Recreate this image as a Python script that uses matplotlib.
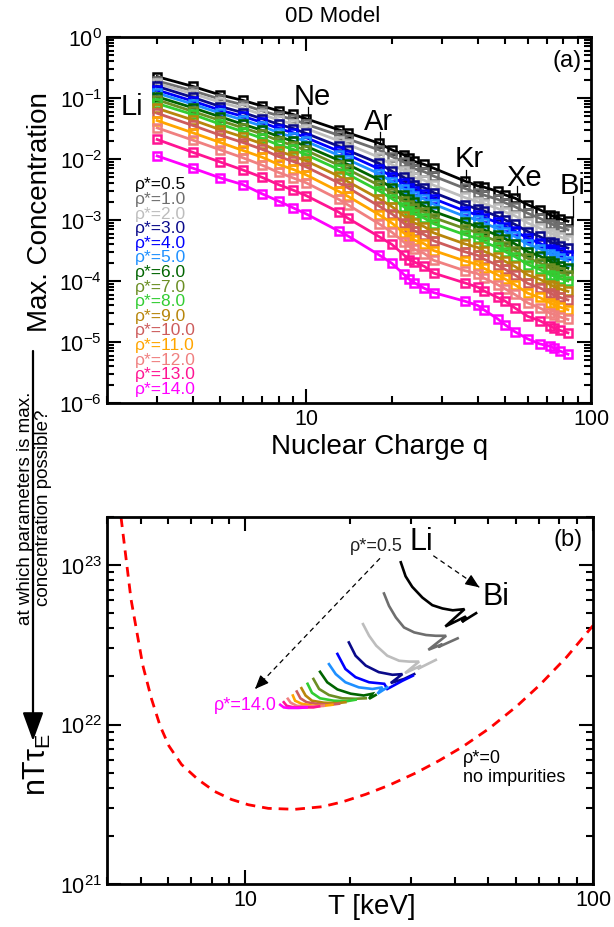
import matplotlib
matplotlib.use('Agg')
import matplotlib.pyplot as plt
import numpy as np
from matplotlib.ticker import LogLocator, NullFormatter, FixedLocator, FixedFormatter

plt.rcParams['font.family'] = ['Liberation Sans', 'DejaVu Sans']
plt.rcParams['mathtext.fontset'] = 'custom'
plt.rcParams['mathtext.rm'] = 'Liberation Sans'
plt.rcParams['mathtext.it'] = 'Liberation Sans:italic'
plt.rcParams['axes.unicode_minus'] = False

# ---------------- data: panel (a) ----------------
charges = [3, 4, 5, 6, 7, 8, 9, 10, 13, 14, 18, 20, 22, 23, 24, 26, 28,
           36, 40, 42, 47, 50, 54, 60, 66, 72, 74, 78, 83]
rho_labels = ['0.5', '1.0', '2.0', '3.0', '4.0', '5.0', '6.0', '7.0',
              '8.0', '9.0', '10.0', '11.0', '12.0', '13.0', '14.0']
rho_colors = ['#000000', '#6e6e6e', '#bdbdbd', '#0a0a8a', '#0000ff',
              '#1e90ff', '#006400', '#6b8e23', '#32cd32', '#b8860b',
              '#cd5c5c', '#ffa500', '#f08080', '#ff1493', '#ff00ff']

# log10 of max. concentration
logc_rho_0p5 = [-0.65, -0.81, -0.95, -1.04, -1.13, -1.21, -1.27, -1.34, -1.52, -1.57, -1.74, -1.85, -1.93, -1.99, -2.04, -2.09, -2.15, -2.36, -2.44, -2.46, -2.53, -2.59, -2.64, -2.75, -2.83, -2.92, -2.94, -2.98, -3.02]
logc_rho_1 = [-0.72, -0.88, -1.02, -1.11, -1.21, -1.29, -1.35, -1.43, -1.61, -1.67, -1.85, -1.96, -2.05, -2.11, -2.16, -2.21, -2.28, -2.48, -2.56, -2.59, -2.66, -2.72, -2.78, -2.89, -2.97, -3.06, -3.08, -3.12, -3.16]
logc_rho_2 = [-0.76, -0.93, -1.07, -1.17, -1.27, -1.36, -1.43, -1.50, -1.70, -1.76, -1.97, -2.09, -2.19, -2.25, -2.30, -2.35, -2.43, -2.63, -2.70, -2.73, -2.81, -2.87, -2.93, -3.05, -3.13, -3.22, -3.24, -3.28, -3.32]
logc_rho_3 = [-0.81, -0.99, -1.14, -1.24, -1.34, -1.43, -1.50, -1.58, -1.79, -1.86, -2.07, -2.20, -2.30, -2.37, -2.42, -2.47, -2.55, -2.75, -2.82, -2.85, -2.94, -3.00, -3.07, -3.19, -3.27, -3.36, -3.38, -3.42, -3.46]
logc_rho_4 = [-0.87, -1.05, -1.20, -1.30, -1.40, -1.50, -1.57, -1.65, -1.87, -1.93, -2.16, -2.29, -2.40, -2.47, -2.52, -2.57, -2.65, -2.85, -2.92, -2.96, -3.04, -3.11, -3.18, -3.30, -3.38, -3.47, -3.49, -3.53, -3.57]
logc_rho_5 = [-0.92, -1.10, -1.25, -1.36, -1.46, -1.57, -1.64, -1.71, -1.94, -2.01, -2.24, -2.37, -2.49, -2.55, -2.60, -2.66, -2.74, -2.94, -3.00, -3.05, -3.14, -3.20, -3.27, -3.40, -3.47, -3.56, -3.59, -3.63, -3.67]
logc_rho_6 = [-0.98, -1.16, -1.31, -1.43, -1.53, -1.63, -1.71, -1.79, -2.02, -2.09, -2.34, -2.47, -2.59, -2.66, -2.71, -2.77, -2.86, -3.04, -3.11, -3.16, -3.25, -3.31, -3.39, -3.52, -3.59, -3.68, -3.71, -3.75, -3.79]
logc_rho_7 = [-1.03, -1.22, -1.37, -1.49, -1.59, -1.70, -1.78, -1.86, -2.10, -2.17, -2.43, -2.56, -2.69, -2.76, -2.81, -2.87, -2.96, -3.14, -3.21, -3.26, -3.35, -3.42, -3.50, -3.63, -3.70, -3.79, -3.82, -3.86, -3.90]
logc_rho_8 = [-1.09, -1.27, -1.43, -1.55, -1.66, -1.77, -1.84, -1.93, -2.17, -2.25, -2.52, -2.65, -2.78, -2.85, -2.90, -2.97, -3.06, -3.24, -3.30, -3.36, -3.45, -3.52, -3.60, -3.73, -3.81, -3.90, -3.92, -3.96, -4.00]
logc_rho_9 = [-1.17, -1.36, -1.52, -1.64, -1.75, -1.87, -1.95, -2.03, -2.28, -2.37, -2.65, -2.78, -2.93, -3.00, -3.05, -3.11, -3.21, -3.39, -3.45, -3.51, -3.61, -3.68, -3.76, -3.90, -3.97, -4.06, -4.09, -4.13, -4.17]
logc_rho_10 = [-1.25, -1.45, -1.61, -1.73, -1.84, -1.96, -2.04, -2.13, -2.39, -2.47, -2.77, -2.90, -3.05, -3.13, -3.18, -3.24, -3.34, -3.52, -3.58, -3.64, -3.74, -3.81, -3.90, -4.04, -4.11, -4.20, -4.23, -4.27, -4.31]
logc_rho_11 = [-1.37, -1.57, -1.73, -1.86, -1.97, -2.09, -2.17, -2.26, -2.53, -2.61, -2.91, -3.05, -3.21, -3.28, -3.33, -3.39, -3.50, -3.67, -3.73, -3.79, -3.90, -3.97, -4.06, -4.20, -4.27, -4.36, -4.39, -4.43, -4.47]
logc_rho_12 = [-1.49, -1.69, -1.85, -1.98, -2.10, -2.22, -2.31, -2.39, -2.66, -2.75, -3.06, -3.20, -3.36, -3.43, -3.48, -3.55, -3.66, -3.83, -3.88, -3.95, -4.06, -4.13, -4.22, -4.36, -4.44, -4.53, -4.55, -4.59, -4.63]
logc_rho_13 = [-1.68, -1.89, -2.05, -2.18, -2.30, -2.42, -2.51, -2.60, -2.87, -2.97, -3.27, -3.40, -3.57, -3.65, -3.69, -3.76, -3.87, -4.03, -4.10, -4.16, -4.27, -4.33, -4.44, -4.58, -4.65, -4.74, -4.77, -4.81, -4.85]
logc_rho_14 = [-1.95, -2.15, -2.31, -2.42, -2.57, -2.69, -2.80, -2.90, -3.18, -3.26, -3.57, -3.71, -3.89, -3.97, -4.03, -4.12, -4.19, -4.33, -4.40, -4.47, -4.62, -4.72, -4.83, -4.95, -5.03, -5.07, -5.10, -5.15, -5.20]

element_names = ['Li', 'Ne', 'Ar', 'Kr', 'Xe', 'Bi']

# ---------------- data: panel (b) ----------------
T_rho_0p5 = [28.0, 28.9, 30.2, 32.3, 34.5, 36.9, 39.5, 42.7, 37.6, 43.1, 42.0, 46.1]
n_rho_0p5 = [1.04e23, 8.5e22, 7.3e22, 6.25e22, 5.6e22, 5.34e22, 5.2e22, 5.29e22, 4.12e22, 4.76e22, 4.4e22, 4.99e22]
T_rho_1 = [25.05, 25.9, 27.1, 28.6, 30.6, 33.1, 35.3, 37.8, 33.6, 36.9, 35.9, 40.8]
n_rho_1 = [6.63e22, 5.54e22, 4.69e22, 4.06e22, 3.78e22, 3.64e22, 3.6e22, 3.6e22, 2.94e22, 3.19e22, 3.06e22, 3.47e22]
T_rho_2 = [21.8, 22.7, 23.8, 25.6, 27.7, 29.6, 31.6, 28.8, 32.0, 31.3, 35.3]
n_rho_2 = [4.26e22, 3.6e22, 3.12e22, 2.7e22, 2.51e22, 2.48e22, 2.48e22, 2.1e22, 2.34e22, 2.23e22, 2.54e22]
T_rho_3 = [19.85, 20.75, 22.2, 24.2, 26.5, 28.3, 26.2, 28.6, 30.6]
n_rho_3 = [3.27e22, 2.7e22, 2.34e22, 2.13e22, 2.05e22, 2.07e22, 1.82e22, 1.93e22, 2.07e22]
T_rho_4 = [18.4, 19.4, 20.75, 22.7, 25.1, 25.6, 28.3, 30.3]
n_rho_4 = [2.77e22, 2.23e22, 1.98e22, 1.84e22, 1.8e22, 1.67e22, 1.88e22, 2.02e22]
T_rho_5 = [17.4, 18.2, 19.4, 21.2, 23.2, 24.8, 24.0, 25.6]
n_rho_5 = [2.39e22, 2.07e22, 1.84e22, 1.71e22, 1.67e22, 1.71e22, 1.56e22, 1.71e22]
T_rho_6 = [16.4, 17.2, 18.4, 20.1, 21.9, 23.2, 22.7, 23.7]
n_rho_6 = [2.14e22, 1.84e22, 1.66e22, 1.56e22, 1.52e22, 1.56e22, 1.45e22, 1.53e22]
T_rho_7 = [15.7, 16.3, 17.4, 19.0, 20.7, 22.2]
n_rho_7 = [1.93e22, 1.67e22, 1.53e22, 1.46e22, 1.45e22, 1.46e22]
T_rho_8 = [15.1, 15.55, 16.4, 17.96, 19.6, 20.75]
n_rho_8 = [1.8e22, 1.58e22, 1.46e22, 1.41e22, 1.4e22, 1.43e22]
T_rho_9 = [14.5, 14.9, 15.55, 16.8, 18.4, 19.4]
n_rho_9 = [1.69e22, 1.52e22, 1.41e22, 1.37e22, 1.36e22, 1.38e22]
T_rho_10 = [14.06, 14.4, 15.0, 16.3, 17.6, 18.6]
n_rho_10 = [1.61e22, 1.46e22, 1.38e22, 1.34e22, 1.33e22, 1.35e22]
T_rho_11 = [13.7, 13.9, 14.5, 15.7, 16.8, 17.8]
n_rho_11 = [1.52e22, 1.41e22, 1.35e22, 1.31e22, 1.31e22, 1.33e22]
T_rho_12 = [13.25, 13.5, 14.06, 15.0, 16.1, 16.8]
n_rho_12 = [1.45e22, 1.37e22, 1.31e22, 1.30e22, 1.30e22, 1.31e22]
T_rho_13 = [12.9, 13.15, 13.8, 14.7, 15.7, 16.3]
n_rho_13 = [1.38e22, 1.31e22, 1.28e22, 1.28e22, 1.28e22, 1.30e22]
T_rho_14 = [12.6, 12.9, 13.3, 14.2, 15.0]
n_rho_14 = [1.33e22, 1.28e22, 1.27e22, 1.27e22, 1.28e22]

T_no_imp = [4.39, 4.54, 4.69, 5.07, 5.37, 5.69, 6.03, 6.55, 7.31, 8.17, 9.12, 10.2, 11.64,
            13.9, 16.6, 19.0, 22.2, 25.9, 31.0, 36.1, 42.2, 50.4, 60.3, 70.3, 84.0, 100.0]
n_no_imp = [1.99e23, 1.09e23, 6.1e22, 2.35e22, 1.45e22, 9.77e21, 7.33e21, 5.62e21, 4.52e21,
            3.80e21, 3.39e21, 3.14e21, 2.98e21, 2.94e21, 3.05e21, 3.27e21, 3.65e21, 4.16e21,
            4.98e21, 5.94e21, 7.26e21, 9.48e21, 1.30e22, 1.77e22, 2.65e22, 4.17e22]

# ---------------- figure ----------------
W, H = 614, 928
fig = plt.figure(figsize=(W / 100, H / 100), dpi=100)
fig.patch.set_facecolor('white')


def rect(l, t, r, b):
    return [l / W, 1 - b / H, (r - l) / W, (b - t) / H]


ax1 = fig.add_axes(rect(107, 38, 591, 404))
ax2 = fig.add_axes(rect(107, 518, 593, 885))

conc_sets = [logc_rho_0p5, logc_rho_1, logc_rho_2, logc_rho_3, logc_rho_4,
             logc_rho_5, logc_rho_6, logc_rho_7, logc_rho_8, logc_rho_9,
             logc_rho_10, logc_rho_11, logc_rho_12, logc_rho_13, logc_rho_14]
for vals, col in zip(conc_sets, rho_colors):
    ax1.plot(charges, 10 ** np.array(vals), color=col, lw=2.0, marker='s',
             ms=5.5, mfc='none', mec=col, mew=1.8)

ax1.set_xscale('log')
ax1.set_yscale('log')
ax1.set_xlim(2, 100)
ax1.set_ylim(1e-6, 1)

T_sets = [T_rho_0p5, T_rho_1, T_rho_2, T_rho_3, T_rho_4, T_rho_5, T_rho_6,
          T_rho_7, T_rho_8, T_rho_9, T_rho_10, T_rho_11, T_rho_12, T_rho_13, T_rho_14]
n_sets = [n_rho_0p5, n_rho_1, n_rho_2, n_rho_3, n_rho_4, n_rho_5, n_rho_6,
          n_rho_7, n_rho_8, n_rho_9, n_rho_10, n_rho_11, n_rho_12, n_rho_13, n_rho_14]
ax2.plot(T_no_imp, n_no_imp, color='#ff0000', lw=2.0, ls=(0, (3.5, 2.5)))
for Ts, ns, col in zip(T_sets, n_sets, rho_colors):
    ax2.plot(Ts, ns, color=col, lw=1.9, solid_joinstyle='miter')
ax2.set_xscale('log')
ax2.set_yscale('log')
ax2.set_xlim(4, 100)
ax2.set_ylim(1e21, 2e23)

for ax in (ax1, ax2):
    for s in ax.spines.values():
        s.set_linewidth(2)
    ax.tick_params(which='both', direction='in', top=True, right=True,
                   labelsize=15.5, width=1.5)
    ax.tick_params(which='major', length=10)
    ax.tick_params(which='minor', length=5)
    ax.xaxis.set_major_locator(FixedLocator([10, 100]))
    ax.xaxis.set_major_formatter(FixedFormatter(['10', '100']))
    ax.xaxis.set_minor_locator(LogLocator(base=10, subs=np.arange(2, 10)))
    ax.xaxis.set_minor_formatter(NullFormatter())
    ax.yaxis.set_minor_locator(LogLocator(base=10, subs=np.arange(2, 10), numticks=20))
    ax.yaxis.set_minor_formatter(NullFormatter())
ax1.yaxis.set_major_locator(LogLocator(base=10, numticks=20))
ax2.yaxis.set_major_locator(LogLocator(base=10, numticks=20))

# ---- panel (a) texts ----
def a_xy(x, y):
    return ((x - 107) / 484, (404 - y) / 366)


def b_xy(x, y):
    return ((x - 107) / 486, (885 - y) / 367)


fig.text(333 / W, 1 - 17 / H, '0D Model', ha='center', va='center', fontsize=16)
ax1.text(*a_xy(567, 61), '(a)', transform=ax1.transAxes, ha='center', va='center', fontsize=17)
ax1.text(*a_xy(380, 447), 'Nuclear Charge q', transform=ax1.transAxes,
         ha='center', va='center', fontsize=20)
fig.text(40 / W, 1 - 212 / H, 'Max. Concentration', rotation=90,
         ha='center', va='center', fontsize=20)

label_pos = [(131.7, 106.7), (312, 96.7), (379, 121.7), (469, 159), (524, 177.5), (572.5, 185.8)]
pointer = [None, (307.5, 108, 118), (380, 133, 143), (466, 170.7, 180),
           (516.7, 187, 197), (573.3, 196.7, 218)]
for name, (px, py), pt in zip(element_names, label_pos, pointer):
    ax1.text(*a_xy(px, py), name, transform=ax1.transAxes, ha='center',
             va='center', fontsize=21)
    if pt is not None:
        x0, y0 = a_xy(pt[0], pt[1])
        x1, y1 = a_xy(pt[0], pt[2])
        ax1.plot([x0, x1], [y0, y1], transform=ax1.transAxes, color='k', lw=0.9)

for i, (lab, col) in enumerate(zip(rho_labels, rho_colors)):
    ax1.text(*a_xy(135, 185 + 14.6 * i), '\u03c1*=' + lab, transform=ax1.transAxes,
             ha='left', va='center', fontsize=12.5, color=col)

# ---- panel (b) texts ----
ax2.text(*b_xy(568, 540), '(b)', transform=ax2.transAxes, ha='center', va='center', fontsize=17)
ax2.text(*b_xy(372, 907), 'T [keV]', transform=ax2.transAxes, ha='center', va='center', fontsize=20)
ax2.text(*b_xy(376, 546.7), '\u03c1*=0.5', transform=ax2.transAxes, ha='center',
         va='center', fontsize=13, color='#222222')
ax2.text(*b_xy(421.3, 542.5), 'Li', transform=ax2.transAxes, ha='center', va='center', fontsize=22)
ax2.text(*b_xy(496, 596.7), 'Bi', transform=ax2.transAxes, ha='center', va='center', fontsize=22)
ax2.text(*b_xy(245, 705), '\u03c1*=14.0', transform=ax2.transAxes, ha='center',
         va='center', fontsize=13, color='#ff00ff')
ax2.text(*b_xy(463.3, 759), '\u03c1*=0', transform=ax2.transAxes, ha='left',
         va='center', fontsize=13)
ax2.text(*b_xy(463.3, 778), 'no impurities', transform=ax2.transAxes, ha='left',
         va='center', fontsize=13)


def dashed_arrow(ax, p0, p1):
    x0, y0 = b_xy(*p0)
    x1, y1 = b_xy(*p1)
    ax.plot([x0, x1], [y0, y1], transform=ax.transAxes, color='k', lw=0.9,
            ls=(0, (4, 3)))
    d = np.array([x1 - x0, y1 - y0])
    d = d / np.hypot(*d) * 0.02
    ax.annotate('', xy=(x1, y1), xytext=(x1 - d[0], y1 - d[1]),
                xycoords='axes fraction', textcoords='axes fraction',
                arrowprops=dict(arrowstyle='-|>,head_length=0.6,head_width=0.25',
                                color='k', lw=0.9, shrinkA=0, shrinkB=0,
                                mutation_scale=14))


dashed_arrow(ax2, (380, 559.3), (255, 690))
dashed_arrow(ax2, (433.3, 556.7), (479.3, 588.3))

# ---- left side annotation ----
fig.text(34.5 / W, 1 - 508 / H, 'at which parameters is max.\nconcentration possible?',
         rotation=90, ha='center', va='center', multialignment='center',
         fontsize=13.5, linespacing=1.05)
ax1.annotate('', xy=(33, H - 742), xycoords='figure pixels',
             xytext=(33, H - 352), textcoords='figure pixels',
             arrowprops=dict(arrowstyle='-|>,head_length=1.1,head_width=0.4',
                             color='k', lw=1.6, shrinkA=0, shrinkB=0,
                             mutation_scale=16),
             annotation_clip=False)
fig.text(37 / W, 1 - 764 / H, 'nT$\\mathrm{\u03c4}_\\mathrm{E}$', rotation=90,
         ha='center', va='center', fontsize=22)

fig.savefig('out.png', dpi=100, facecolor='white')
